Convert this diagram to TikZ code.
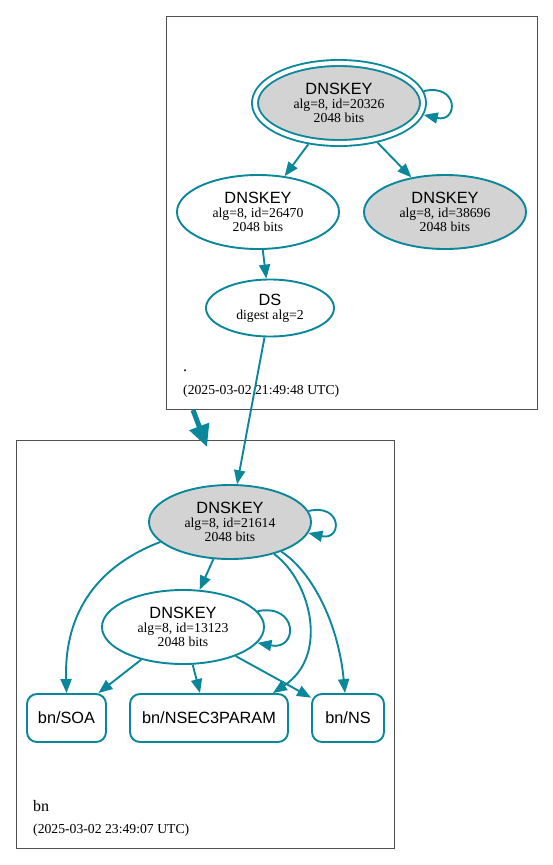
\documentclass[tikz,border=0pt]{standalone}
\usepackage{fontspec}
\setmainfont{Liberation Serif}
\newfontfamily\sansf{Liberation Sans}
\usetikzlibrary{shapes.geometric,arrows.meta}
\definecolor{edgec}{RGB}{10,135,154}
\definecolor{keyfill}{RGB}{211,211,211}
\definecolor{clus}{RGB}{80,80,80}
\newcommand\hd[1]{{\sansf\fontsize{16.3}{14}\selectfont #1}}
\tikzset{
 key/.style={ellipse, draw=edgec, line width=1.9pt, minimum width=162pt, minimum height=74pt, inner sep=0pt, align=center, font=\fontsize{13.7}{14}\selectfont},
 ksk/.style={key, fill=keyfill},
 rr/.style={rectangle, rounded corners=10pt, draw=edgec, line width=1.9pt, minimum height=48pt, inner sep=0pt, font=\sansf\fontsize{16.3}{18}\selectfont},
 edge/.style={draw=edgec, line width=1.9pt, -{Triangle[length=14pt,width=11pt]}},
 cluster/.style={draw=clus, line width=0.8pt},
 clab/.style={anchor=base west, inner sep=0pt, font=\fontsize{16}{18}\selectfont},
 ts/.style={anchor=base west, inner sep=0pt, font=\fontsize{13.7}{16}\selectfont},
 zonearrow/.style={draw=edgec, line width=5pt, -{Triangle[length=22pt,width=20pt]}},
}
\begin{document}
\begin{tikzpicture}[x=1pt,y=-1pt]
\useasboundingbox (0,0) rectangle (553,865);
% clusters
\draw[cluster] (166,16) rectangle (537,409);
\draw[cluster] (16,440) rectangle (394,848);
% root zone
\node[ksk, double=white, double distance=4.1pt, minimum width=168pt, minimum height=80pt, outer sep=4pt] (k20326) at (339,103) {\hd{DNSKEY}\\alg=8, id=20326\\2048 bits};
\node[key] (k26470) at (258,212) {\hd{DNSKEY}\\alg=8, id=26470\\2048 bits};
\node[ksk] (k38696) at (445,212) {\hd{DNSKEY}\\alg=8, id=38696\\2048 bits};
\node[key, minimum width=128pt, minimum height=57pt] (ds) at (270,308) {\hd{DS}\\digest alg=2};
\node[clab] (rootlab) at (183,371) {.};
\node[ts] (rootts) at (183,394) {(2025-03-02 21:49:48 UTC)};
% bn zone
\node[ksk] (k21614) at (230,522) {\hd{DNSKEY}\\alg=8, id=21614\\2048 bits};
\node[key] (k13123) at (183,627) {\hd{DNSKEY}\\alg=8, id=13123\\2048 bits};
\node[rr, minimum width=79pt] (soa) at (66.5,718) {bn/SOA};
\node[rr, minimum width=158pt] (nsec) at (209,718) {bn/NSEC3PARAM};
\node[rr, minimum width=72pt] (ns) at (348,718) {bn/NS};
\node[clab] (bnlab) at (33,811) {bn};
\node[ts] (bnts) at (33,833) {(2025-03-02 23:49:07 UTC)};
% edges
\draw[edge] (k20326.8) .. controls +(35,-8) and +(35,8) .. (k20326.-8);
\draw[edge] (k20326) -- (k26470);
\draw[edge] (k20326) -- (k38696);
\draw[edge] (k26470) -- (ds);
\draw[edge] (ds) -- (k21614);
\coordinate (za) at (193,410);
\coordinate (zb) at (207,447);
\draw[zonearrow] (za) -- (zb);
\draw[edge] (k21614.8) .. controls +(34,-8) and +(34,8) .. (k21614.-8);
\draw[edge] (k21614) -- (k13123);
\draw[edge] (k21614.196) .. controls (100,565) and (64,610) .. (soa.north);
\draw[edge] (k21614.-36) .. controls (310,580) and (330,655) .. ([xshift=-16pt]nsec.north east);
\draw[edge] (k21614.-30) .. controls (310,570) and (338,620) .. ([xshift=-3pt]ns.north);
\draw[edge] (k13123.12) .. controls +(41,-8) and +(41,8) .. (k13123.-12);
\draw[edge] (k13123) -- (soa);
\draw[edge] (k13123) -- ([xshift=-9pt]nsec.north);
\draw[edge] (k13123) -- (ns);
\end{tikzpicture}
\end{document}
